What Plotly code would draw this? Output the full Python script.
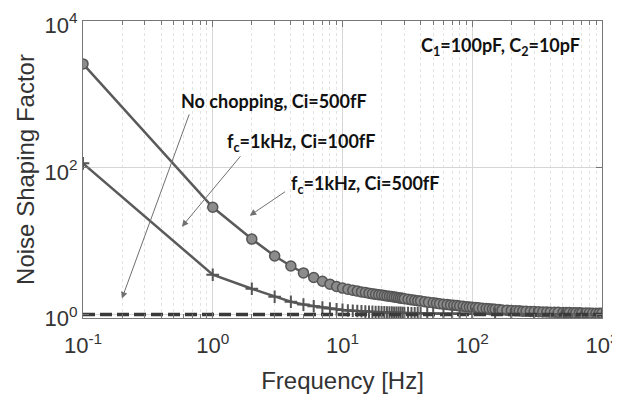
import plotly.graph_objects as go

# ---- data ----
freq_c = [0.1, 1, 2, 3, 4, 5, 6, 7, 8, 9,
          10, 11, 12, 13, 14, 15, 16, 17, 18, 19, 20, 21, 22, 23, 24, 25, 26, 27, 28, 29,
          30, 32, 34, 36, 38, 40, 43, 46, 50, 53, 56, 60, 64, 68, 72, 76, 80, 85, 90, 95,
          100, 106, 112, 120, 128, 135, 143, 150, 160, 170, 185, 200, 215, 230, 245, 260,
          280, 300, 325, 350, 375, 400, 430, 460, 500, 530, 560, 600, 630, 670, 700, 750,
          800, 850, 900, 950, 1000]
nsf_c500 = [2600, 29, 10.7, 6.3, 4.6, 3.7, 3.2, 2.85, 2.6, 2.42,
            2.30, 2.22, 2.15, 2.09, 2.04, 2.00, 1.96, 1.92, 1.89, 1.87, 1.85, 1.82, 1.80,
            1.78, 1.76, 1.74, 1.72, 1.70, 1.68, 1.665,
            1.65, 1.62, 1.59, 1.57, 1.55, 1.53, 1.50, 1.47, 1.45, 1.43, 1.41, 1.39, 1.37,
            1.355, 1.34, 1.33, 1.31, 1.30, 1.28, 1.27,
            1.26, 1.25, 1.24, 1.22, 1.21, 1.20, 1.19, 1.18, 1.17, 1.16, 1.15, 1.14, 1.13,
            1.125, 1.115, 1.11, 1.105, 1.10, 1.095, 1.09, 1.085, 1.08, 1.078, 1.075, 1.07,
            1.068, 1.065, 1.062, 1.06, 1.057, 1.055, 1.052, 1.05, 1.048, 1.045, 1.042, 1.04]

freq_p = [0.1, 1, 2, 3, 4, 5, 6, 7, 8, 9, 10, 11, 12, 13, 14, 15, 16, 17, 18, 19, 20,
          21, 22, 23, 24, 25, 26, 27, 28, 29, 30, 32, 34, 36, 38, 40, 45, 50, 60, 70, 80,
          100, 150, 200, 300, 500, 700, 1000]
nsf_c100 = [115, 3.5, 2.25, 1.75, 1.5, 1.37, 1.3, 1.25, 1.21, 1.18, 1.16, 1.14, 1.13,
            1.12, 1.11, 1.10, 1.095, 1.09, 1.085, 1.08, 1.075, 1.072, 1.07, 1.067, 1.065,
            1.062, 1.06, 1.058, 1.055, 1.053, 1.05, 1.048, 1.046, 1.044, 1.042, 1.04,
            1.037, 1.035, 1.03, 1.027, 1.025, 1.02, 1.015, 1.01, 1.008, 1.005, 1.004, 1.003]

freq_nc = [0.1, 1000]
nsf_nochop = [1.0, 1.0]

x_tickvals = [0.1, 1, 10, 100, 1000]
x_ticktext = ["10<sup>-1</sup>", "10<sup>0</sup>", "10<sup>1</sup>", "10<sup>2</sup>", "10<sup>3</sup>"]
y_tickvals = [1, 100, 10000]
y_ticktext = ["10<sup>0</sup>", "10<sup>2</sup>", "10<sup>4</sup>"]

line_col = "#5a5a5a"

fig = go.Figure()
fig.add_trace(go.Scatter(
    x=freq_c, y=nsf_c500, mode="lines+markers",
    line=dict(color=line_col, width=2.5),
    marker=dict(symbol="circle", size=10, color="#8c8c8c",
                line=dict(color="#555555", width=1.5)),
    showlegend=False))
fig.add_trace(go.Scatter(
    x=freq_p, y=nsf_c100, mode="lines+markers",
    line=dict(color=line_col, width=2.5),
    marker=dict(symbol="cross-thin", size=9,
                line=dict(color="#555555", width=2)),
    showlegend=False))
fig.add_trace(go.Scatter(
    x=freq_nc, y=nsf_nochop, mode="lines",
    line=dict(color="#3a3a3a", width=3.5, dash="12px,5px"),
    showlegend=False))

font_ann = dict(family="Lato, 'Open Sans', sans-serif", size=18, color="#111111")

texts = [
    ("<b>No chopping, Ci=500fF</b>", 0.47, 2.912),
    ("<b>f<sub>c</sub>=1kHz, Ci=100fF</b>", 0.68, 2.339),
    ("<b>f<sub>c</sub>=1kHz, Ci=500fF</b>", 1.17, 1.769),
    ("<b>C<sub>1</sub>=100pF, C<sub>2</sub>=10pF</b>", 2.215, 3.646),
]
for t, lx, ly in texts:
    fig.add_annotation(x=lx, y=ly, xref="x", yref="y", text=t, showarrow=False,
                       font=font_ann, xanchor="center", yanchor="middle")

arrows = [
    (-0.177, 2.749, -0.70, 0.219),
    (0.223, 2.178, -0.238, 1.198),
    (0.569, 1.688, 0.285, 1.348),
]
for tx, ty, hx, hy in arrows:
    fig.add_annotation(x=hx, y=hy, ax=tx, ay=ty, xref="x", yref="y",
                       axref="x", ayref="y", text="", showarrow=True,
                       arrowhead=2, arrowsize=1.3, arrowwidth=1, arrowcolor="#707070")

axis_font = dict(family="Liberation Sans, Arial, sans-serif", size=24, color="#333333")
tick_font = dict(family="Liberation Sans, Arial, sans-serif", size=22, color="#333333")

fig.update_xaxes(
    type="log", range=[-1, 3], automargin=False,
    tickvals=x_tickvals, ticktext=x_ticktext, tickfont=tick_font,
    ticklabeloverflow="allow", ticklabelstandoff=8,
    title=dict(text="Frequency [Hz]", font=axis_font, standoff=14),
    showline=True, linecolor="#777777", linewidth=1, mirror="allticks",
    ticks="inside", ticklen=6, tickcolor="#777777",
    showgrid=True, gridcolor="#d6d6d6", gridwidth=1,
    minor=dict(dtick="D1", ticks="inside", ticklen=4, tickcolor="#777777",
               showgrid=True, gridcolor="#e2e2e2", griddash="dot"),
    zeroline=False)
fig.update_yaxes(
    type="log", range=[-0.046, 4], automargin=False,
    tickvals=y_tickvals, ticktext=y_ticktext, tickfont=tick_font,
    ticklabeloverflow="allow", ticklabelshift=4,
    title=dict(text="Noise Shaping Factor", font=axis_font, standoff=3),
    showline=True, linecolor="#777777", linewidth=1, mirror="allticks",
    ticks="inside", ticklen=6, tickcolor="#777777",
    showgrid=True, gridcolor="#d6d6d6", gridwidth=1,
    zeroline=False)

# the page adds an 8 px offset to the figure; margins compensate for it
fig.update_layout(
    width=620, height=400,
    margin=dict(l=75, r=26, t=13, b=90),
    paper_bgcolor="white", plot_bgcolor="white",
    showlegend=False)

fig.write_html("out.html")
